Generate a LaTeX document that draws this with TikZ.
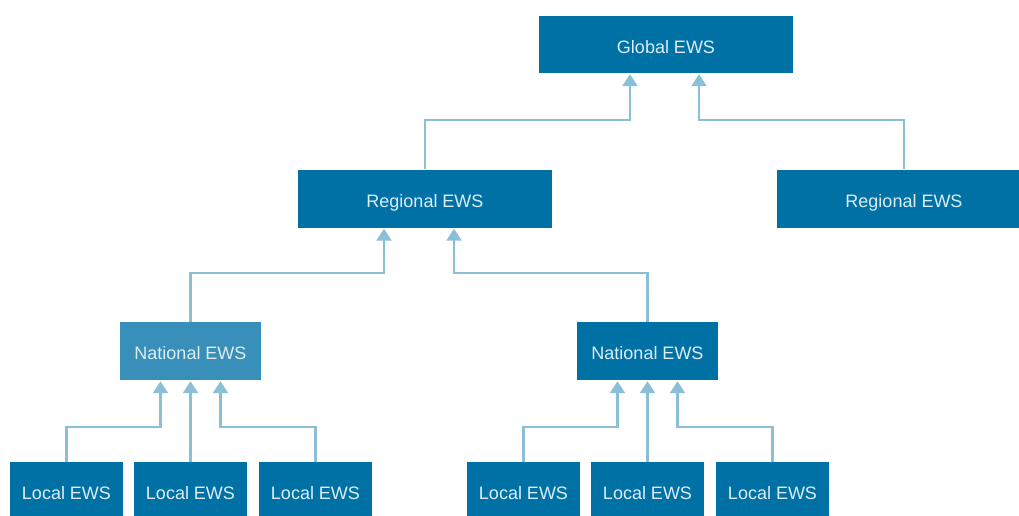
\documentclass[tikz,border=0pt]{standalone}
\usepackage{fontspec}
\setmainfont{Liberation Sans}
\usetikzlibrary{arrows.meta}
\definecolor{boxblue}{HTML}{0071A5}
\definecolor{boxlight}{HTML}{388FBA}
\definecolor{arrblue}{HTML}{8BBFD7}
\definecolor{txt}{HTML}{DCEDF6}
\tikzset{
  ews/.style={rectangle, fill=boxblue, draw=none, text=txt, font=\fontsize{18}{21}\selectfont, inner sep=0pt, text height=17pt, text depth=0pt, anchor=center},
  big/.style={ews, minimum width=254pt, minimum height=58pt},
  mid/.style={ews, minimum width=141pt, minimum height=58pt},
  small/.style={ews, minimum width=113pt, minimum height=58pt},
  arr/.style={draw=arrblue, line width=2.4pt, -{Triangle[length=12pt,width=15pt]}, shorten >=1pt}
}
\begin{document}
\begin{tikzpicture}[x=1pt,y=-1pt]
\useasboundingbox (0,0) rectangle (1019,515);
\clip (0,0) rectangle (1019,515);
\node[big, minimum height=57pt] (global) at (666,44.5) {Global EWS};
\node[big] (regL) at (425,198.5) {Regional EWS};
\node[big] (regR) at (904,198.5) {Regional EWS};
\node[mid, fill=boxlight] (natL) at (190.5,351) {National EWS};
\node[mid] (natR) at (647.5,351) {National EWS};
\node[small] (l1) at (66.5,491) {Local EWS};
\node[small] (l2) at (190.5,491) {Local EWS};
\node[small] (l3) at (315.5,491) {Local EWS};
\node[small] (l4) at (523.5,491) {Local EWS};
\node[small] (l5) at (647.5,491) {Local EWS};
\node[small] (l6) at (772.5,491) {Local EWS};
% to global
\draw[arr] (regL.north) -- ++(0,-49.5) -| ([xshift=-36pt]global.south);
\draw[arr] (regR.north) -- ++(0,-49.5) -| ([xshift=33pt]global.south);
% to regional
\draw[arr] (natL.north) -- ++(0,-49) -| ([xshift=-41pt]regL.south);
\draw[arr] (natR.north) -- ++(0,-49) -| ([xshift=29pt]regL.south);
% to national left
\draw[arr] (l1.north) -- ++(0,-35) -| ([xshift=-30pt]natL.south);
\draw[arr] (l2.north) -- (natL.south);
\draw[arr] (l3.north) -- ++(0,-35) -| ([xshift=30pt]natL.south);
% to national right
\draw[arr] (l4.north) -- ++(0,-35) -| ([xshift=-30pt]natR.south);
\draw[arr] (l5.north) -- (natR.south);
\draw[arr] (l6.north) -- ++(0,-35) -| ([xshift=30pt]natR.south);
\end{tikzpicture}
\end{document}
